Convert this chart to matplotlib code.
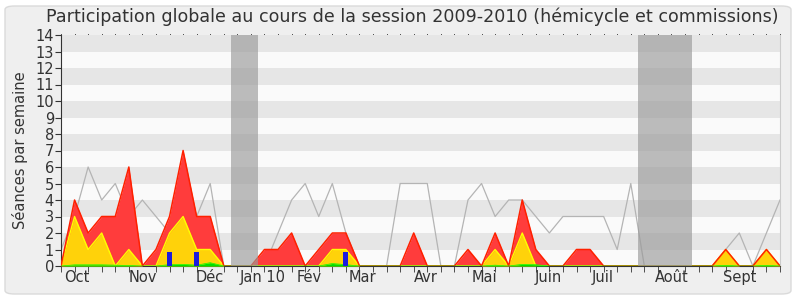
import numpy as np
import matplotlib.pyplot as plt
from matplotlib.patches import FancyBboxPatch

# weekly values, session 2009-2010 (54 weeks)
total = [0, 4, 2, 3, 3, 6, 0, 1, 3, 7, 3, 3, 0, 0, 0, 1, 1, 2, 0, 1,
         2, 2, 0, 0, 0, 0, 2, 0, 0, 0, 1, 0, 2, 0, 4, 1, 0, 0, 1, 1,
         0, 0, 0, 0, 0, 0, 0, 0, 0, 1, 0, 0, 1, 0]
commission = [0, 3, 1, 2, 0, 1, 0, 0, 2, 3, 1, 1, 0, 0, 0, 0, 0, 0, 0, 0,
              1, 1, 0, 0, 0, 0, 0, 0, 0, 0, 0, 0, 1, 0, 2, 0, 0, 0, 0, 0,
              0, 0, 0, 0, 0, 0, 0, 0, 0, 1, 0, 0, 1, 0]
presence = [0, 0.07, 0.07, 0.07, 0.05, 0.03, 0, 0, 0.08, 0.1, 0.05, 0.2, 0, 0, 0, 0, 0, 0, 0, 0,
            0.15, 0.08, 0, 0, 0, 0, 0, 0, 0, 0, 0, 0, 0.05, 0, 0.1, 0.08, 0, 0, 0, 0,
            0, 0, 0, 0, 0, 0, 0, 0, 0, 0.04, 0, 0, 0.04, 0]
mediane = [1, 3, 6, 4, 5, 3, 4, 3, 2, 3, 3, 5, 0, 0, 0, 0, 2, 4, 5, 3,
           5, 2, 0, 0, 0, 5, 5, 5, 0, 0, 4, 5, 3, 4, 4, 3, 2, 3, 3, 3,
           3, 1, 5, 0, 0, 0, 0, 0, 0, 1, 2, 0, 2, 4]
questions_weeks = [8, 10, 21]
questions = [0.85, 0.85, 0.85]
vacances = [(12.5, 14.5), (42.5, 46.5)]
mois = ['Oct', 'Nov', 'Déc', 'Jan 10', 'Fév', 'Mar', 'Avr', 'Mai', 'Juin', 'Juil', 'Août', 'Sept']
mois_pos = [1.2, 6, 11, 14.9, 18.3, 22.2, 26.9, 31.2, 35.9, 39.9, 45, 50]

weeks = np.arange(len(total))

fig = plt.figure(figsize=(8, 3), dpi=100, facecolor='white')
fig.patches.append(FancyBboxPatch((5 / 800, 6 / 300), 786 / 800, 288 / 300,
                                  boxstyle='round,pad=0,rounding_size=0.012',
                                  transform=fig.transFigure, facecolor='#efefef',
                                  edgecolor='#dadada', linewidth=1, zorder=-10))
ax = fig.add_axes([61 / 800, 1 - 266 / 300, 719 / 800, 231 / 300])
ax.set_facecolor('#fafafa')

# horizontal stripes
for y in range(1, 14, 2):
    ax.axhspan(y, y + 1, color='#e6e6e6', zorder=0, lw=0)

ax.plot(weeks, mediane, color='#b4b4b4', lw=0.9, zorder=1)

ax.fill_between(weeks, total, color='#ff3c3c', lw=0, zorder=2)
ax.fill_between(weeks, commission, color='#ffd20a', lw=0, zorder=4)
ax.plot(weeks, commission, color='#ffff00', lw=1, zorder=5)
ax.plot(weeks, total, color='#ff2000', lw=1.1, zorder=5.5)
ax.fill_between(weeks, presence, color='#00e000', lw=0, zorder=6)
ax.plot(weeks, presence, color='#00ff00', lw=0.5, zorder=6)
ax.bar(questions_weeks, questions, width=0.38, color='#1c1cdc', zorder=7)

for a, b in vacances:
    ax.axvspan(a, b, color='#9a9a9a', alpha=0.65, lw=0, zorder=8)

ax.set_xlim(0, 53)
ax.set_ylim(0, 14)
ax.set_yticks(range(0, 15))
ax.tick_params(axis='y', labelsize=10.5, length=4, color='#333333', labelcolor='#333333', pad=1)
ax.set_xticks(weeks, minor=True)
ax.set_xticks(mois_pos)
ax.set_xticklabels(mois)
ax.tick_params(axis='x', which='major', length=0, labelsize=10.5, labelcolor='#333333', pad=3)
ax.tick_params(axis='x', which='minor', length=4, color='#333333', direction='out')
ax.set_ylabel('Séances par semaine', fontsize=10.5, color='#333333', labelpad=5)
fig.text(412.5 / 800, 1 - 17 / 300,
         'Participation globale au cours de la session 2009-2010 (hémicycle et commissions)',
         fontsize=12.6, color='#333333', ha='center', va='center')

# tiny dots along the top edge
ax.plot(weeks, np.full(len(weeks), 14.08), ls='none', marker='s', ms=0.6, mew=0,
        color='#444444', clip_on=False, zorder=9)

ax.spines['top'].set_visible(False)
ax.spines['right'].set_color('#cccccc')
ax.spines['left'].set_color('#333333')
ax.spines['bottom'].set_color('#333333')

fig.savefig('out.png', dpi=100)
